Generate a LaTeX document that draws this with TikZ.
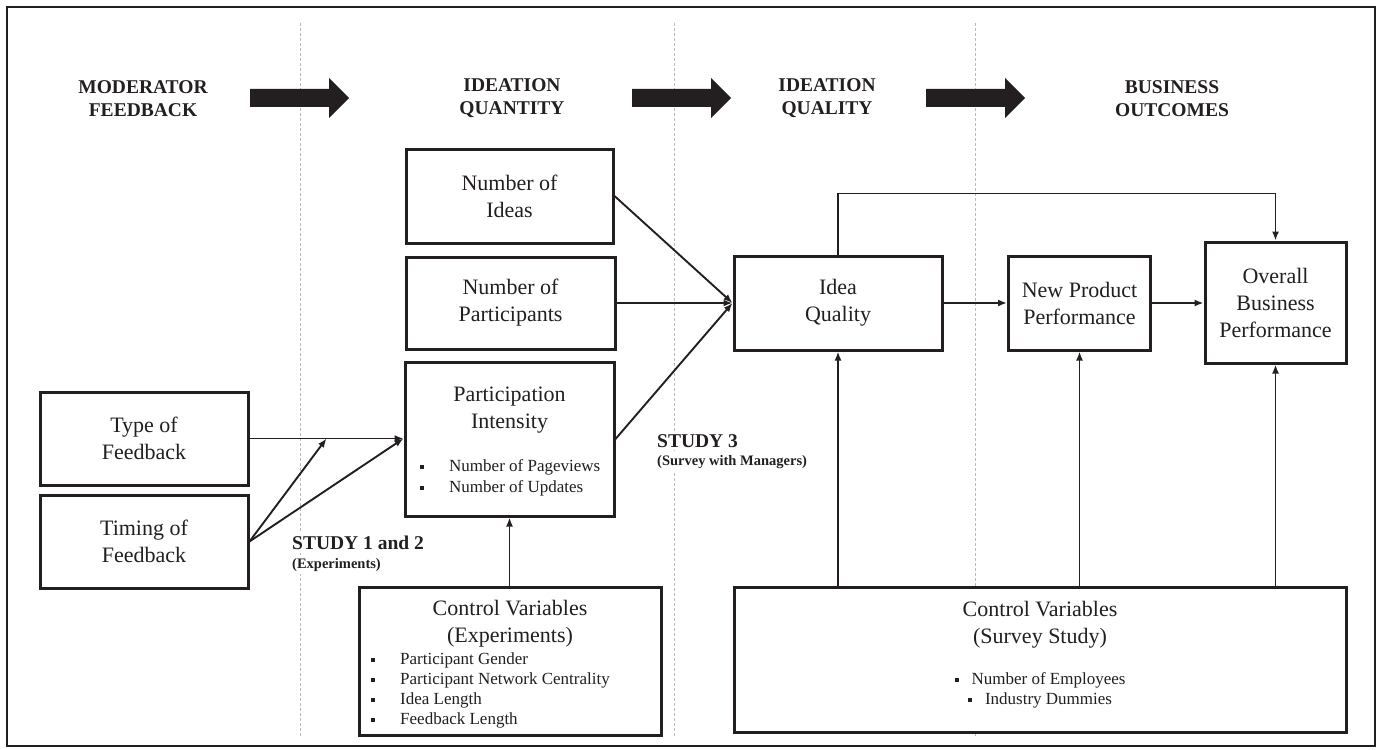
\documentclass[tikz,border=0pt]{standalone}
\usepackage{fontspec}
\setmainfont{Liberation Serif}
\usetikzlibrary{arrows.meta,calc}
\definecolor{ink}{RGB}{35,31,32}
\definecolor{guide}{RGB}{185,185,185}
\newcommand{\sqbul}{\textcolor{ink}{\rule[2pt]{4pt}{4pt}}}
\begin{document}
\begin{tikzpicture}[x=1pt,y=-1pt,
  box/.style={draw=ink,line width=3pt,fill=white,inner sep=0pt,align=center,text=ink,font=\fontsize{22}{27}\selectfont},
  boxtitle/.style={inner sep=0pt,align=center,text=ink,font=\fontsize{22}{27}\selectfont},
  conn/.style={draw=ink,line width=1.9pt,-{Latex[length=9pt,width=7pt]}},
  head/.style={font=\bfseries\fontsize{19.5}{23}\selectfont,align=center,text=ink},
  guideline/.style={draw=guide,line width=0.8pt,dash pattern=on 3pt off 2pt},
  item/.style={anchor=base west,inner sep=0pt,font=\fontsize{17}{20}\selectfont,text=ink},
  citem/.style={anchor=base,inner sep=0pt,font=\fontsize{17}{20}\selectfont,text=ink},
  study/.style={anchor=base west,fill=white,inner sep=3pt,text=ink,font=\bfseries\fontsize{19.5}{23}\selectfont},
  studysub/.style={anchor=base west,fill=white,inner sep=3pt,text=ink,font=\bfseries\fontsize{14.5}{17}\selectfont}
]
\useasboundingbox (0,0) rectangle (1380,749);
% frame
\draw[ink,line width=2pt] (7,7) rectangle (1375,746);
% guide lines
\foreach \gx in {300,674,975} \draw[guideline] (\gx,23) -- (\gx,737);
% headers
\node[head] (hmod) at (143,98.5) {MODERATOR\\FEEDBACK};
\node[head] (hqty) at (512,98.5) {IDEATION\\QUANTITY};
\node[head] (hqly) at (827,98.5) {IDEATION\\QUALITY};
\node[head] (hbus) at (1172,98.5) {BUSINESS\\OUTCOMES};
% big arrows
\foreach \ax in {250,632,926}
  \fill[ink] (\ax,89) -- (\ax+79,89) -- (\ax+79,78) -- (\ax+99,98) -- (\ax+79,118) -- (\ax+79,107) -- (\ax,107) -- cycle;
% boxes
\node[box,minimum width=208pt,minimum height=93pt] (type) at (144,438.5) {Type of\\Feedback};
\node[box,minimum width=208pt,minimum height=93pt] (timing) at (144,541.5) {Timing of\\Feedback};
\node[box,minimum width=207pt,minimum height=94pt] (ideas) at (509.5,196) {Number of\\Ideas};
\node[box,minimum width=209pt,minimum height=92pt] (parts) at (510.5,303) {Number of\\Participants};
\node[box,minimum width=209pt,minimum height=154pt] (pi) at (509.5,439) {};
\node[boxtitle] (pit) at (509.5,410.5) {Participation\\Intensity};
\node[item] (pib1) at (420,471) {\sqbul\hspace{25pt}Number of Pageviews};
\node[item] (pib2) at (420,492) {\sqbul\hspace{25pt}Number of Updates};
\node[box,minimum width=208pt,minimum height=94pt] (iq) at (838,303) {Idea\\Quality};
\node[box,minimum width=142pt,minimum height=94pt] (npp) at (1079.5,303) {New Product\\Performance};
\node[box,minimum width=141pt,minimum height=121pt] (obp) at (1275.5,302.5) {Overall\\Business\\Performance};
\node[box,minimum width=302pt,minimum height=148pt] (cve) at (510,661) {};
\node[boxtitle] (cvet) at (510,623.5) {Control Variables\\(Experiments)};
\node[item] (cveb1) at (371,664) {\sqbul\hspace{25pt}Participant Gender};
\node[item] (cveb2) at (371,684) {\sqbul\hspace{25pt}Participant Network Centrality};
\node[item] (cveb3) at (371,704) {\sqbul\hspace{25pt}Idea Length};
\node[item] (cveb4) at (371,724) {\sqbul\hspace{25pt}Feedback Length};
\node[box,minimum width=612pt,minimum height=145pt] (cvs) at (1040,659.5) {};
\node[boxtitle] (cvst) at (1040,624.5) {Control Variables\\(Survey Study)};
\node[citem] (cvsb1) at (1040,684) {\sqbul\hspace{13pt}Number of Employees};
\node[citem] (cvsb2) at (1040,704) {\sqbul\hspace{13pt}Industry Dummies};
% study labels
\node[study] (s12) at (289,549) {STUDY 1 and 2};
\node[studysub] (s12b) at (289,568) {(Experiments)};
\node[study] (s3) at (654,447) {STUDY 3};
\node[studysub] (s3b) at (654,465) {(Survey with Managers)};
% connectors
\coordinate (piin) at (type.east -| pi.west);
\coordinate (mid) at ($(type.east)!0.5!(piin)$);
\draw[conn] (type.east) -- (piin);
\draw[conn] (timing.east) -- (mid);
\draw[conn] (timing.east) -- (piin);
\draw[conn] (ideas.east) -- (iq.west);
\draw[conn] (parts.east) -- (iq.west);
\draw[conn] (pi.east) -- (iq.west);
\draw[conn] (iq.east) -- (npp.west);
\draw[conn] (npp.east) -- (npp.east -| obp.west);
\draw[conn,line width=1.6pt] (iq.north) -- ++(0,-61) -| (obp.north);
\draw[conn] (pi.south |- cve.north) -- (pi.south);
\draw[conn] (iq.south |- cvs.north) -- (iq.south);
\draw[conn] (npp.south |- cvs.north) -- (npp.south);
\draw[conn] (obp.south |- cvs.north) -- (obp.south);
\end{tikzpicture}
\end{document}
